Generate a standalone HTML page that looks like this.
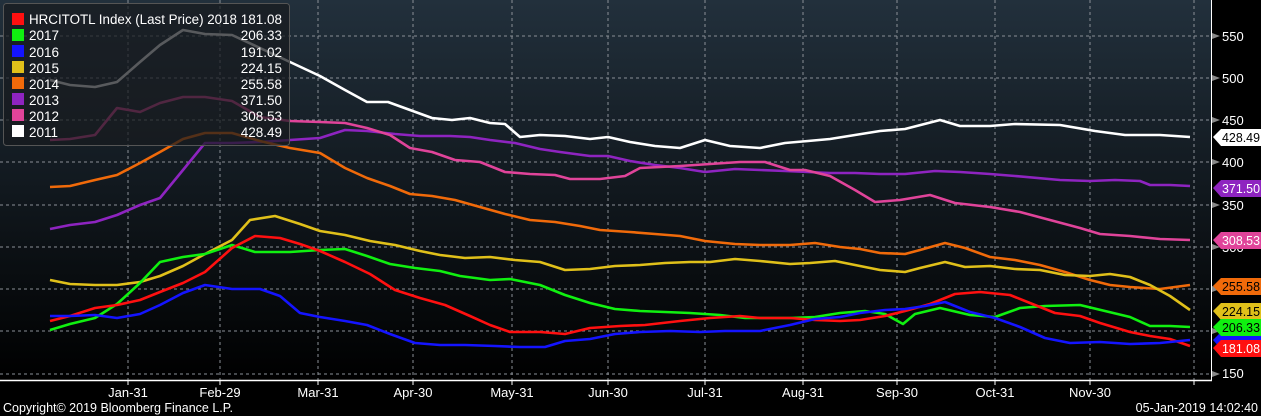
<!DOCTYPE html>
<html><head><meta charset="utf-8"><style>
html,body{margin:0;padding:0;background:#000;}
svg{display:block;font-family:"Liberation Sans",sans-serif;}
</style></head><body>
<svg width="1261" height="416" viewBox="0 0 1261 416" xmlns="http://www.w3.org/2000/svg">
<defs>
<linearGradient id="bg" x1="0" y1="0" x2="0" y2="1">
<stop offset="0" stop-color="#22303c"/><stop offset="1" stop-color="#000"/>
</linearGradient>
</defs>
<rect width="1261" height="416" fill="#000"/>
<rect x="0" y="0" width="1211" height="380" fill="url(#bg)"/>
<g stroke="#8a8f96" stroke-width="1" stroke-dasharray="3,3" fill="none">
<line x1="0" y1="36" x2="1211" y2="36"/><line x1="0" y1="78" x2="1211" y2="78"/>
<line x1="0" y1="120" x2="1211" y2="120"/><line x1="0" y1="162" x2="1211" y2="162"/>
<line x1="0" y1="205" x2="1211" y2="205"/><line x1="0" y1="247" x2="1211" y2="247"/>
<line x1="0" y1="289" x2="1211" y2="289"/><line x1="0" y1="331" x2="1211" y2="331"/>
<line x1="0" y1="374" x2="1211" y2="374"/>
<line x1="128" y1="0" x2="128" y2="380"/><line x1="220" y1="0" x2="220" y2="380"/>
<line x1="318" y1="0" x2="318" y2="380"/><line x1="413" y1="0" x2="413" y2="380"/>
<line x1="512" y1="0" x2="512" y2="380"/><line x1="608" y1="0" x2="608" y2="380"/>
<line x1="705" y1="0" x2="705" y2="380"/><line x1="803" y1="0" x2="803" y2="380"/>
<line x1="897" y1="0" x2="897" y2="380"/><line x1="995" y1="0" x2="995" y2="380"/>
<line x1="1090" y1="0" x2="1090" y2="380"/><line x1="1194" y1="0" x2="1194" y2="380"/>
</g>
<g fill="none" stroke-width="2.6" stroke-linejoin="round">
<polyline stroke="#ffffff" points="50,80 70,85 95,87 117,82 140,62 160,45 183,30 205,34 232,35 260,48 290,62 320,76 345,90 367,102 388,102 410,110 432,118 452,120 470,118 490,123 505,124 520,137 540,135 565,136 590,139 608,137 630,142 655,146 680,148 705,140 730,146 760,148 785,143 808,141 830,139 855,135 880,131 905,129 940,120 960,126 990,126 1015,124 1060,125 1095,131 1125,135 1160,135 1190,137"/>
<polyline stroke="#8e24c0" points="50,229 70,225 95,222 117,215 140,205 160,198 183,170 205,143 232,143 260,142 290,140 320,138 345,130 367,131 395,134 420,136 450,136 470,137 490,140 515,143 540,149 560,152 590,156 608,156 630,161 655,165 680,168 705,172 735,169 760,170 785,171 808,172 830,173 855,173 880,174 905,174 935,171 960,172 990,174 1015,176 1060,180 1090,181 1115,180 1140,181 1150,185 1170,185 1190,186"/>
<polyline stroke="#e0449a" points="50,140 70,139 95,135 117,108 140,112 160,103 183,97 205,97 232,101 260,117 290,121 320,122 345,123 367,128 390,135 410,148 432,152 455,160 480,162 505,172 530,174 555,175 570,179 600,179 625,176 640,168 660,167 680,166 710,164 740,162 765,162 790,170 805,170 830,176 855,190 875,202 900,200 930,195 955,203 990,207 1020,212 1050,220 1080,228 1100,234 1130,236 1160,239 1190,240"/>
<polyline stroke="#f06a0a" points="50,187 70,186 95,180 117,175 140,163 160,152 183,139 205,133 232,133 260,141 290,148 320,153 345,168 367,178 390,186 410,194 432,196 455,200 480,207 505,214 530,220 555,222 580,226 600,230 630,232 655,234 680,236 705,241 735,244 760,245 790,245 815,243 840,247 860,249 880,253 905,254 920,250 945,243 965,248 990,257 1015,260 1040,265 1065,272 1090,280 1110,285 1130,287 1160,289 1190,285"/>
<polyline stroke="#e0c01a" points="50,280 70,284 95,285 117,285 140,282 160,276 183,266 205,254 232,240 250,220 275,216 300,224 320,231 345,235 370,241 395,245 420,251 440,255 465,258 490,257 515,260 540,262 565,270 590,269 615,266 640,265 665,263 690,262 710,262 735,259 760,261 790,264 810,263 835,261 855,265 880,270 905,272 920,268 945,262 965,267 990,266 1015,269 1040,270 1065,275 1090,276 1110,274 1130,277 1150,285 1170,296 1190,310"/>
<polyline stroke="#10f010" points="50,330 70,324 95,318 117,304 140,283 160,262 183,257 205,254 232,245 255,252 290,252 320,250 345,249 367,256 390,264 415,268 440,271 460,276 490,280 510,279 540,285 565,295 590,303 615,309 640,311 665,312 690,313 720,315 745,318 760,318 790,318 815,317 840,313 865,311 885,314 903,324 915,314 940,308 970,315 995,317 1020,308 1045,306 1080,305 1105,311 1130,317 1150,326 1170,326 1190,327"/>
<polyline stroke="#ff1010" points="50,321 70,316 95,308 117,305 140,300 160,292 183,283 205,272 232,248 255,236 280,238 300,244 320,251 345,262 370,274 395,290 420,298 445,305 470,316 490,325 510,332 540,332 565,334 590,328 620,326 645,325 680,321 710,318 740,316 760,318 790,318 815,320 840,321 860,320 885,316 905,311 930,304 955,294 980,292 1010,295 1030,303 1055,313 1080,316 1100,323 1130,332 1150,336 1170,339 1190,346"/>
<polyline stroke="#1414ff" points="50,316 70,316 95,315 117,318 140,314 160,305 183,293 205,285 232,289 260,289 280,296 300,313 320,317 345,321 367,325 390,334 415,343 440,345 465,345 495,346 520,347 545,347 565,341 590,339 615,334 640,332 670,331 700,332 725,331 760,331 790,325 815,319 840,317 860,313 885,310 905,309 925,306 945,302 970,312 995,318 1020,327 1045,338 1070,343 1100,342 1130,344 1160,343 1190,340"/>
</g>
<!-- legend -->
<rect x="3.5" y="3.5" width="286" height="142" rx="3" fill="rgba(24,26,30,0.72)" stroke="#555" stroke-width="1"/>
<g font-size="13.5" fill="#fff">
<rect x="12" y="13" width="12" height="12" fill="#ff1010"/><text x="29" y="24" textLength="208" lengthAdjust="spacingAndGlyphs">HRCITOTL Index (Last Price) 2018</text><text x="282" y="24" text-anchor="end">181.08</text>
<rect x="12" y="29" width="12" height="12" fill="#10f010"/><text x="29" y="40">2017</text><text x="282" y="40" text-anchor="end">206.33</text>
<rect x="12" y="45" width="12" height="12" fill="#1414ff"/><text x="29" y="57">2016</text><text x="282" y="57" text-anchor="end">191.02</text>
<rect x="12" y="61" width="12" height="12" fill="#e0c01a"/><text x="29" y="73">2015</text><text x="282" y="73" text-anchor="end">224.15</text>
<rect x="12" y="77" width="12" height="12" fill="#f06a0a"/><text x="29" y="89">2014</text><text x="282" y="89" text-anchor="end">255.58</text>
<rect x="12" y="93" width="12" height="12" fill="#8e24c0"/><text x="29" y="105">2013</text><text x="282" y="105" text-anchor="end">371.50</text>
<rect x="12" y="109" width="12" height="12" fill="#e0449a"/><text x="29" y="121">2012</text><text x="282" y="121" text-anchor="end">308.53</text>
<rect x="12" y="125" width="12" height="12" fill="#ffffff"/><text x="29" y="137">2011</text><text x="282" y="137" text-anchor="end">428.49</text>
</g>
<!-- axes -->
<line x1="0" y1="380.5" x2="1212" y2="380.5" stroke="#fff" stroke-width="1.5"/>
<line x1="1211.5" y1="0" x2="1211.5" y2="381" stroke="#fff" stroke-width="1"/>
<g fill="#888">
<polygon points="1212,33 1220,36 1212,39"/><polygon points="1212,75 1220,78 1212,81"/>
<polygon points="1212,117 1220,120 1212,123"/><polygon points="1212,159 1220,162 1212,165"/>
<polygon points="1212,202 1220,205 1212,208"/><polygon points="1212,244 1220,247 1212,250"/>
<polygon points="1212,286 1220,289 1212,292"/><polygon points="1212,328 1220,331 1212,334"/>
<polygon points="1212,371 1220,374 1212,377"/>
</g>
<g font-size="13" fill="#fff">
<text x="1222" y="41">550</text><text x="1222" y="83">500</text><text x="1222" y="125">450</text>
<text x="1222" y="167">400</text><text x="1222" y="210">350</text><text x="1222" y="252">300</text>
<text x="1222" y="294">250</text><text x="1222" y="336">200</text><text x="1222" y="378">150</text>
</g>
<!-- value flags -->
<g font-size="13">
<polygon points="1213,137 1221,129 1261,129 1261,146 1221,146" fill="#fff"/><text x="1222" y="142" fill="#000" textLength="38" lengthAdjust="spacingAndGlyphs">428.49</text>
<polygon points="1213,188 1221,180 1261,180 1261,197 1221,197" fill="#8e24c0"/><text x="1222" y="193" fill="#fff" textLength="38" lengthAdjust="spacingAndGlyphs">371.50</text>
<polygon points="1213,240 1221,232 1261,232 1261,249 1221,249" fill="#e0449a"/><text x="1222" y="245" fill="#fff" textLength="38" lengthAdjust="spacingAndGlyphs">308.53</text>
<polygon points="1213,286 1221,278 1261,278 1261,295 1221,295" fill="#f06a0a"/><text x="1222" y="291" fill="#000" textLength="38" lengthAdjust="spacingAndGlyphs">255.58</text>
<polygon points="1213,311 1221,303 1261,303 1261,320 1221,320" fill="#e0c01a"/><text x="1222" y="316" fill="#000" textLength="38" lengthAdjust="spacingAndGlyphs">224.15</text>
<polygon points="1213,340 1221,332 1261,332 1261,349 1221,349" fill="#1414ff"/>
<polygon points="1213,327 1221,319 1261,319 1261,336 1221,336" fill="#10f010"/><text x="1222" y="332" fill="#000" textLength="38" lengthAdjust="spacingAndGlyphs">206.33</text>
<polygon points="1213,348 1221,340 1261,340 1261,357 1221,357" fill="#ff1010"/><text x="1222" y="353" fill="#fff" textLength="38" lengthAdjust="spacingAndGlyphs">181.08</text>
</g>
<g stroke="#fff" stroke-width="1">
<line x1="128" y1="380" x2="128" y2="385"/><line x1="220" y1="380" x2="220" y2="385"/>
<line x1="318" y1="380" x2="318" y2="385"/><line x1="413" y1="380" x2="413" y2="385"/>
<line x1="512" y1="380" x2="512" y2="385"/><line x1="608" y1="380" x2="608" y2="385"/>
<line x1="705" y1="380" x2="705" y2="385"/><line x1="803" y1="380" x2="803" y2="385"/>
<line x1="897" y1="380" x2="897" y2="385"/><line x1="995" y1="380" x2="995" y2="385"/>
<line x1="1090" y1="380" x2="1090" y2="385"/><line x1="1194" y1="380" x2="1194" y2="385"/>
</g>
<g font-size="13" fill="#fff" text-anchor="middle">
<text x="128" y="397">Jan-31</text><text x="220" y="397">Feb-29</text><text x="318" y="397">Mar-31</text>
<text x="413" y="397">Apr-30</text><text x="512" y="397">May-31</text><text x="608" y="397">Jun-30</text>
<text x="705" y="397">Jul-31</text><text x="803" y="397">Aug-31</text><text x="897" y="397">Sep-30</text>
<text x="995" y="397">Oct-31</text><text x="1090" y="397">Nov-30</text>
</g>
<text x="3" y="412" font-size="12.5" fill="#fff">Copyright© 2019 Bloomberg Finance L.P.</text>
<text x="1258" y="412" font-size="12.5" fill="#fff" text-anchor="end">05-Jan-2019 14:02:40</text>
</svg>
</body></html>
